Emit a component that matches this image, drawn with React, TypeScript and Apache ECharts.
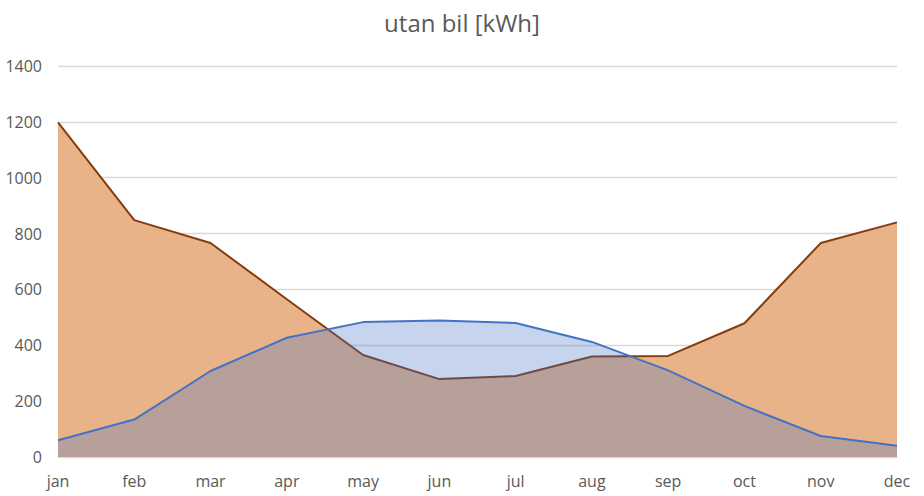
import React, { useEffect, useRef } from "react";
import * as echarts from "echarts";

const months = ["jan", "feb", "mar", "apr", "may", "jun", "jul", "aug", "sep", "oct", "nov", "dec"];
const orangeValues = [1198, 848, 766, 565, 365, 279, 290, 360, 362, 479, 766, 840];
const blueValues = [60, 134, 308, 427, 483, 489, 480, 412, 310, 183, 75, 40];
const titleText = "utan bil [kWh]";

export default function App() {
  const ref = useRef<HTMLDivElement>(null);
  useEffect(() => {
    if (!ref.current) return;
    const chart = echarts.init(ref.current, null, { renderer: "svg" });
    const font = "'Open Sans', 'Liberation Sans', sans-serif";
    chart.setOption({
      animation: false,
      backgroundColor: "#ffffff",
      title: {
        text: titleText,
        left: "center",
        top: 5,
        textStyle: { fontFamily: font, fontSize: 24, fontWeight: "normal", color: "#595959" },
      },
      grid: { left: 58, right: 27, top: 66, bottom: 39, containLabel: false },
      xAxis: {
        type: "category",
        data: months,
        boundaryGap: false,
        axisLine: { show: true, lineStyle: { color: "#D9D9D9", width: 1.5 } },
        axisTick: { show: false },
        axisLabel: { fontFamily: font, fontSize: 16, color: "#595959", margin: 16 },
        splitLine: { show: false },
      },
      yAxis: {
        type: "value",
        min: 0,
        max: 1400,
        interval: 200,
        axisLine: { show: false },
        axisTick: { show: false },
        axisLabel: {
          fontFamily: font,
          fontSize: 16,
          color: "#595959",
          margin: 16,
          formatter: (v: number) => String(v),
        },
        splitLine: { show: true, lineStyle: { color: "#D9D9D9", width: 1.3 } },
      },
      series: [
        {
          type: "line",
          data: orangeValues,
          symbol: "none",
          lineStyle: { color: "#843C0C", width: 2 },
          areaStyle: { color: "#E9B389", opacity: 1 },
          z: 2,
        },
        {
          type: "line",
          data: blueValues,
          symbol: "none",
          lineStyle: { color: "#4472C4", width: 2 },
          areaStyle: { color: "#4472C4", opacity: 0.3 },
          z: 3,
        },
      ],
    });
    return () => chart.dispose();
  }, []);
  return <div ref={ref} style={{ width: 924, height: 496, position: "absolute", left: 0, top: 0 }} />;
}
